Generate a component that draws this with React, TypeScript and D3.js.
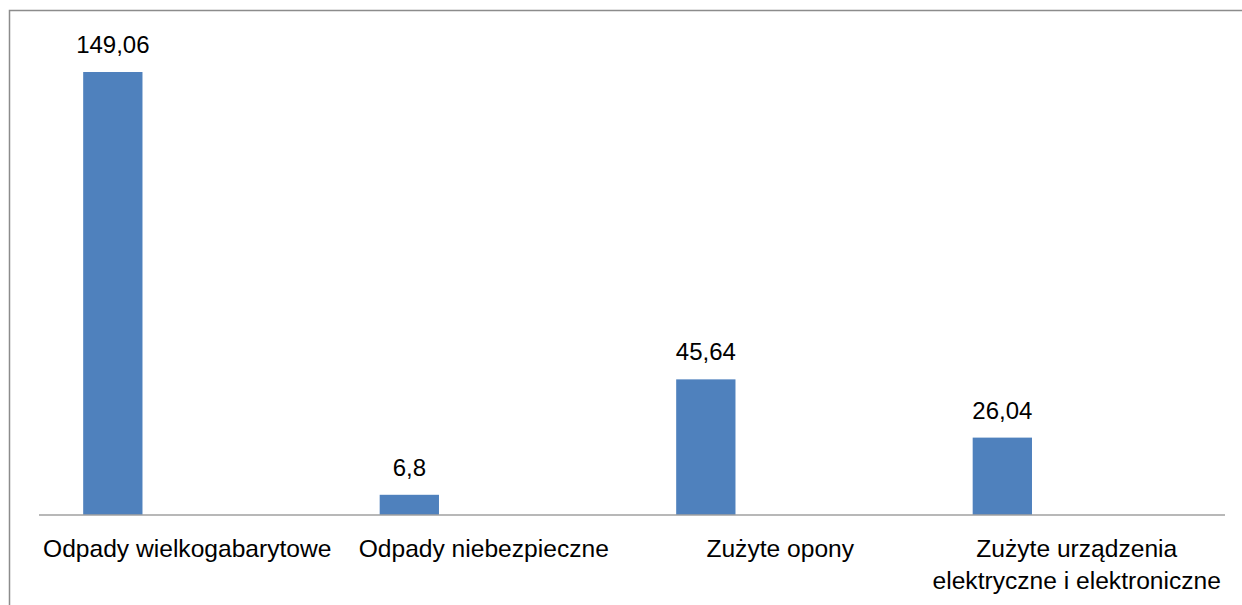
import React from "react";
import * as d3 from "d3";

const categories = [
  "Odpady wielkogabarytowe",
  "Odpady niebezpieczne",
  "Zużyte opony",
  "Zużyte urządzenia elektryczne i elektroniczne",
];
const categoryLines = [
  ["Odpady wielkogabarytowe"],
  ["Odpady niebezpieczne"],
  ["Zużyte opony"],
  ["Zużyte urządzenia", "elektryczne i elektroniczne"],
];
const values = [149.06, 6.8, 45.64, 26.04];
const valueLabels = ["149,06", "6,8", "45,64", "26,04"];

const W = 1242;
const H = 605;
const FONT = "'Liberation Sans', Arial, sans-serif";

export default function App() {
  const x = d3.scaleBand<string>().domain(categories).range([39, 1225]).padding(0);
  const y = d3.scaleLinear().domain([0, 160]).range([515, 39.5]);
  const bw = x.bandwidth();
  const barOffset = bw * 0.149;
  const barW = bw * 0.2;

  return (
    <svg
      width={W}
      height={H}
      style={{ position: "absolute", left: 0, top: 0, background: "#fff" }}
    >
      <rect x={0} y={0} width={W} height={H} fill="#fff" />
      <path d={`M9.5,${H + 5} V10.5 H${W + 5}`} fill="none" stroke="#8c8c8c" strokeWidth={1.5} />
      {categories.map((c, i) => {
        const bx = (x(c) ?? 0) + barOffset;
        return (
          <g key={c}>
            <rect x={bx} y={y(values[i])} width={barW} height={y(0) - y(values[i])} fill="#4F81BD" />
            <text
              x={bx + barW / 2}
              y={y(values[i]) - 19}
              textAnchor="middle"
              fontFamily={FONT}
              fontSize={24}
              fill="#000"
            >
              {valueLabels[i]}
            </text>
          </g>
        );
      })}
      <line x1={39} x2={1225} y1={y(0)} y2={y(0)} stroke="#a0a0a0" strokeWidth={1.5} />
      {categories.map((c, i) => (
        <text
          key={c + "-label"}
          x={(x(c) ?? 0) + bw / 2}
          y={557}
          textAnchor="middle"
          fontFamily={FONT}
          fontSize={24.6}
          fill="#000"
        >
          {categoryLines[i].map((line, j) => (
            <tspan key={j} x={(x(c) ?? 0) + bw / 2} dy={j === 0 ? 0 : 32}>
              {line}
            </tspan>
          ))}
        </text>
      ))}
    </svg>
  );
}
